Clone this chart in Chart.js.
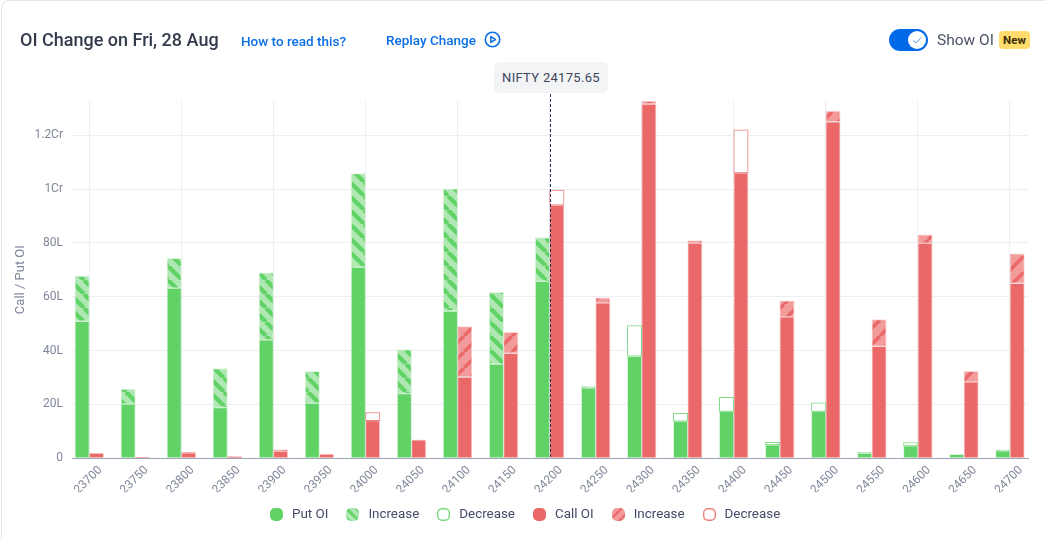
<!DOCTYPE html>
<html>
<head>
<meta charset="utf-8">
<script src="https://cdn.jsdelivr.net/npm/chart.js@4"></script>
<style>
    html, body { margin: 0; padding: 0; background: #fff; }
    #page { position: relative; width: 1045px; height: 539px; overflow: hidden; font-family: Roboto, sans-serif; }
    #card { position: absolute; left: 1px; top: 0; width: 1100px; height: 600px; box-sizing: border-box; border: 1px solid #e1e5ec; border-width: 1px 0 0 1px; border-top-left-radius: 8px; }
    #myChart { position: absolute; left: 0; top: 0; }
    .txt { position: absolute; white-space: nowrap; line-height: 20px; }
    #title { left: 20px; top: 30px; font-size: 18px; font-weight: 500; color: #323a4c; }
    .link { font-size: 13.5px; font-weight: 500; color: #0c6fe4; }
    #pill { position: absolute; left: 494px; top: 62px; width: 114px; height: 31px; background: #f3f4f5; border-radius: 5px; text-align: center; line-height: 31px; font-size: 13px; color: #3d445c; letter-spacing: .3px; }
    #toggle { position: absolute; left: 889px; top: 29px; width: 39px; height: 22px; background: #0069e8; border-radius: 11px; }
    #toggle svg { position: absolute; left: 19px; top: 2px; }
    #showOi { left: 937px; top: 30px; font-size: 15.5px; color: #4a5268; }
    #badge { position: absolute; left: 999px; top: 31px; width: 31px; height: 18px; background: #ffdc6b; border-radius: 4px; text-align: center; line-height: 18px; font-size: 11.5px; font-weight: 700; color: #3a2c06; }
    #legend { position: absolute; left: 270px; top: 505px; display: flex; gap: 18px; font-size: 13.4px; line-height: 18px; color: #414a66; }
    .legend-item { display: flex; align-items: center; white-space: nowrap; }
    .swatch { width: 13px; height: 13px; box-sizing: border-box; border-radius: 5px; margin-right: 9px; }
</style>
</head>
<body>
<div id="page">
    <div id="card"></div>
    <canvas id="myChart" width="1045" height="539"></canvas>
    <div class="txt" id="title">OI Change on Fri, 28 Aug</div>
    <div class="txt link" style="left:241px;top:31px">How to read this?</div>
    <div class="txt link" style="left:386px;top:30px">Replay Change</div>
    <svg style="position:absolute;left:484px;top:31px" width="17" height="17" viewBox="0 0 17 17">
        <circle cx="8.5" cy="8.5" r="7.2" fill="none" stroke="#0c6fe4" stroke-width="1.6"/>
        <path d="M6.8 5.6 L11.4 8.5 L6.8 11.4 Z" fill="none" stroke="#0c6fe4" stroke-width="1.5" stroke-linejoin="round"/>
    </svg>
    <div id="pill">NIFTY 24175.65</div>
    <div id="toggle">
        <svg width="18" height="18" viewBox="0 0 18 18">
            <circle cx="9" cy="9" r="9" fill="#fff"/>
            <path d="M5 9.5 L8 12 L13 6.5" fill="none" stroke="#5c9be8" stroke-width="1"/>
        </svg>
    </div>
    <div class="txt" id="showOi">Show OI</div>
    <div id="badge">New</div>
    <div id="legend"></div>
</div>

<script>
let strikes = [23700, 23750, 23800, 23850, 23900, 23950, 24000, 24050, 24100, 24150, 24200, 24250, 24300, 24350, 24400, 24450, 24500, 24550, 24600, 24650, 24700];
let spotStrike = 24200;
let yTicks = [0, 20, 40, 60, 80, 100, 120];

// all values in lakh
let putOi = [50.9, 20.1, 63.2, 18.8, 44, 20.5, 71, 24, 54.7, 35, 65.7, 26.2, 37.9, 13.8, 17.4, 5, 17.4, 1.9, 4.6, 1.5, 2.8];
let putIncrease = [16.8, 5.6, 11.1, 14.5, 24.9, 11.8, 34.7, 16.4, 45.4, 26.6, 16.3, 0.5, null, null, null, null, null, 0.3, null, null, 0.3];
let putDecrease = [null, null, null, null, null, null, null, null, null, null, null, null, 11.4, 2.9, 5.2, 0.9, 3.2, null, 1.2, null, null];

let callOi = [1.9, 0.4, 2, 0.4, 2.7, 1.6, 14, 6.9, 30.2, 39, 94, 57.7, 131.6, 79.9, 106, 52.5, 125, 41.6, 79.9, 28.4, 65];
let callIncrease = [null, null, 0.3, 0.2, 0.5, null, null, null, 18.7, 7.8, null, 1.9, 1.1, 1, null, 6, 4, 9.9, 3.1, 3.9, 10.9];
let callDecrease = [null, null, null, null, null, null, 3, null, null, null, 5.6, null, null, null, 16, null, null, null, null, null, null];

const GREEN = '#60d266';
const RED = '#eb6868';

function hatchTile(light, dark, size, lineWidth, falling) {
    let tile = document.createElement('canvas');
    tile.width = size;
    tile.height = size;
    let c = tile.getContext('2d');
    c.fillStyle = light;
    c.fillRect(0, 0, size, size);
    c.strokeStyle = dark;
    c.lineWidth = lineWidth;
    if (falling) {
        c.transform(-1, 0, 0, 1, size, 0);
    }
    for (let i = -1; i <= 1; i++) {
        c.beginPath();
        c.moveTo(i * size, size);
        c.lineTo(i * size + size, 0);
        c.stroke();
    }
    return tile;
}

const ctx = document.getElementById('myChart').getContext('2d');
const greenTile = hatchTile('#b0e8b3', GREEN, 14, 4.2, true);
const redTile = hatchTile('#f39b9b', RED, 16, 3.6, false);
const greenHatch = ctx.createPattern(greenTile, 'repeat');
const redHatch = ctx.createPattern(redTile, 'repeat');

function points(values) {
    return strikes.map((s, i) => ({ x: s, y: values[i] }));
}

function barSet(label, values, stack, fill, border) {
    return {
        label: label,
        data: points(values),
        stack: stack,
        backgroundColor: fill,
        borderColor: border,
        borderWidth: 1,
        borderSkipped: false,
        barThickness: 14.4
    };
}

const spotLine = {
    id: 'spotLine',
    afterDatasetsDraw(chart) {
        let x = Math.round(chart.scales.x.getPixelForValue(spotStrike)) + 0.5;
        let c = chart.ctx;
        c.save();
        c.strokeStyle = '#2a3150';
        c.lineWidth = 1;
        c.setLineDash([3, 2]);
        c.beginPath();
        c.moveTo(x, 94);
        c.lineTo(x, chart.chartArea.bottom);
        c.stroke();
        c.restore();
    }
};

new Chart(ctx, {
    type: 'bar',
    data: {
        datasets: [
            barSet('Put OI', putOi, 'put', GREEN, 'rgba(96, 210, 102, 0.25)'),
            barSet('Increase', putIncrease, 'put', greenHatch, 'rgba(174, 231, 176, 0.4)'),
            barSet('Decrease', putDecrease, 'put', '#ffffff', '#84dc88'),
            barSet('Call OI', callOi, 'call', RED, 'rgba(235, 104, 104, 0.25)'),
            barSet('Increase', callIncrease, 'call', redHatch, 'rgba(243, 155, 155, 0.4)'),
            barSet('Decrease', callDecrease, 'call', '#ffffff', '#ee7d7d')
        ]
    },
    options: {
        responsive: false,
        animation: false,
        layout: { padding: { top: 101, right: 17, left: 0, bottom: 46.7 } },
        scales: {
            x: {
                type: 'linear',
                offset: false,
                min: 23681.2,
                max: 24719.6,
                grid: {
                    offset: false,
                    tickLength: 0,
                    color: (c) => (c.tick && c.tick.value % 100 === 0 ? '#eceef2' : 'transparent')
                },
                border: { color: '#9aa3b8', width: 1 },
                ticks: {
                    stepSize: 50,
                    includeBounds: false,
                    autoSkip: false,
                    minRotation: 45,
                    maxRotation: 45,
                    labelOffset: 11,
                    padding: 5,
                    color: '#80869a',
                    font: { family: 'Roboto', size: 12 },
                    callback: (v) => String(v)
                },
                afterFit: (scale) => { scale.height = 34; }
            },
            y: {
                stacked: true,
                min: 0,
                max: 132.7,
                afterBuildTicks: (scale) => { scale.ticks = yTicks.map((v) => ({ value: v })); },
                grid: { tickLength: 0, color: '#eceef2' },
                border: { display: false },
                title: { display: true, text: 'Call / Put OI', color: '#80869a', font: { family: 'Roboto', size: 13 }, padding: { top: 13, bottom: 0 } },
                ticks: {
                    padding: 9,
                    color: '#80869a',
                    font: { family: 'Roboto', size: 12 },
                    callback: (v) => (v === 0 ? '0' : v >= 100 ? (v / 100) + 'Cr' : v + 'L')
                },
                afterFit: (scale) => { scale.width = 72; }
            }
        },
        plugins: {
            title: { display: false },
            tooltip: { enabled: false },
            legend: { display: false }
        }
    },
    plugins: [spotLine]
});

// legend is plain html so the swatch/text gaps can follow the picture
const legendItems = [
    ['Put OI', 'background:' + GREEN],
    ['Increase', 'background:url(' + greenTile.toDataURL() + ') 0 0/10px 10px'],
    ['Decrease', 'box-shadow:inset 0 0 0 1.4px #78d97d'],
    ['Call OI', 'background:' + RED],
    ['Increase', 'background:url(' + redTile.toDataURL() + ') 0 0/10px 10px'],
    ['Decrease', 'box-shadow:inset 0 0 0 1.4px #ee7d7d']
];
document.getElementById('legend').innerHTML = legendItems.map((item) => /*html*/`
    <div class="legend-item"><span class="swatch" style="${item[1]}"></span>${item[0]}</div>
`).join('');
</script>
</body>
</html>
